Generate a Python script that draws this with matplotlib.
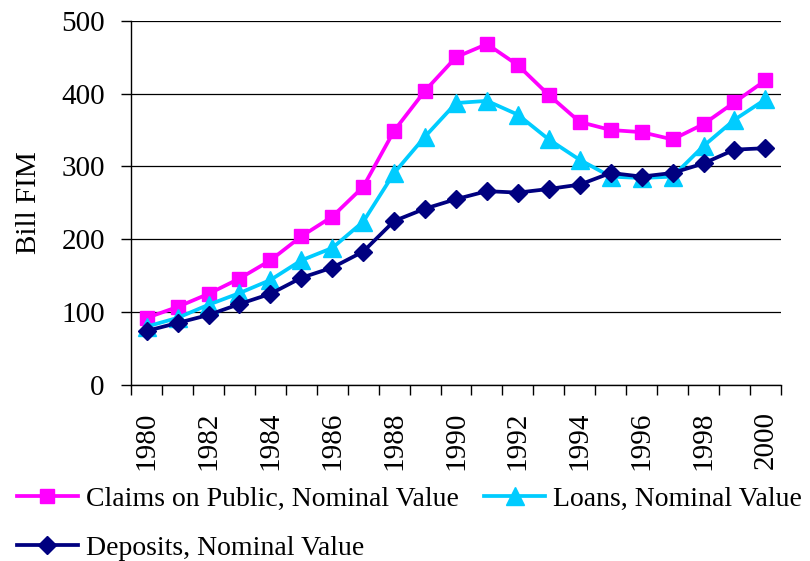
import numpy as np
import matplotlib.pyplot as plt

# Datos
years = np.arange(1980, 2001)
claims = [92, 107, 125, 146, 171, 204, 231, 272, 349, 404, 450,
          468, 439, 398, 361, 350, 347, 337, 358, 388, 418]
loans = [80, 92, 110, 126, 144, 171, 188, 224, 291, 341, 387,
         390, 371, 337, 309, 286, 284, 286, 328, 364, 392]
deposits = [74, 85, 96, 111, 125, 147, 161, 183, 225, 242, 255,
            266, 264, 269, 275, 291, 286, 291, 304, 323, 325]
tick_years = list(range(1980, 2001, 2))

plt.rcParams['font.family'] = ['Liberation Serif', 'DejaVu Serif']

fig = plt.figure(figsize=(8.1, 5.61), dpi=100)
ax = fig.add_axes([0.162, 0.314, 0.802, 0.649])

l1, = ax.plot(years, claims, color="#FF00FF", lw=2.7, marker="s", ms=10,
              label="Claims on Public, Nominal Value")
l2, = ax.plot(years, loans, color="#00CCFF", lw=2.7, marker="^", ms=13,
              label="Loans, Nominal Value")
l3, = ax.plot(years, deposits, color="#000080", lw=2.7, marker="D", ms=9,
              label="Deposits, Nominal Value")

ax.set_ylim(0, 500)
ax.set_xlim(1979.5, 2000.5)
ax.set_yticks(range(0, 501, 100))
ax.set_xticks(tick_years)
ax.set_xticklabels([str(y) for y in tick_years], rotation=90)
ax.set_xticks(np.arange(1979.5, 2001, 1), minor=True)
ax.tick_params(axis="x", which="major", length=0, pad=19, labelsize=21)
ax.tick_params(axis="x", which="minor", length=7, width=1, direction="out")
ax.tick_params(axis="y", length=7, width=1, direction="out", pad=12, labelsize=21)

ax.grid(True, axis="y", color="black", lw=0.9)
ax.set_axisbelow(True)
for s in ["top", "right"]:
    ax.spines[s].set_visible(False)
ax.spines["left"].set_linewidth(1)
ax.spines["bottom"].set_linewidth(1)

ax.set_ylabel("Bill FIM", fontsize=21, labelpad=14)

fig.legend(handles=[l1, l3, l2], loc="lower left", bbox_to_anchor=(0.0, -0.03),
           ncol=2, frameon=False, fontsize=20, handlelength=2.2,
           handletextpad=0.3, columnspacing=0.9, labelspacing=0.85,
           borderaxespad=0.2)

fig.savefig("out.png", dpi=100)
